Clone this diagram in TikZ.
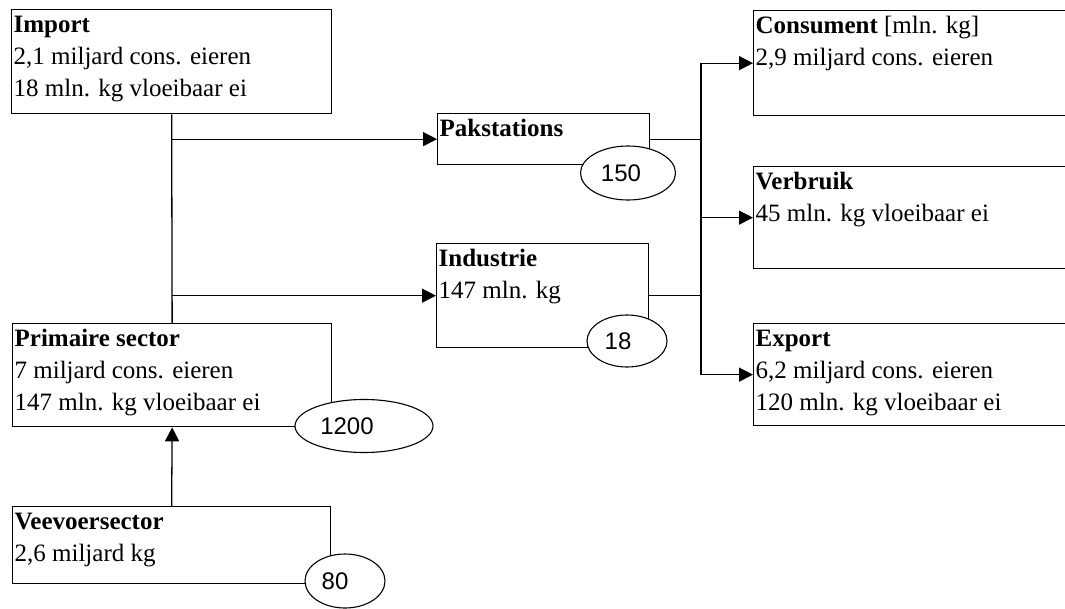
\documentclass[tikz,border=0pt]{standalone}
\usepackage{fontspec}
\setmainfont{Liberation Serif}
\newfontfamily\getalfont{Liberation Sans}
\usetikzlibrary{shapes.geometric,arrows.meta}

\newcommand{\inhoud}[3]{\parbox[c][#2][t]{#1}{\strut #3}}

\tikzset{
  blok/.style={draw, line width=1.3pt, anchor=north west, inner xsep=2pt, inner ysep=0pt,
    font=\fontsize{25}{32}\selectfont},
  getal/.style={draw, ellipse, fill=white, line width=1.1pt, inner sep=0pt,
    font=\getalfont\fontsize{24}{28}\selectfont},
  lijn/.style={line width=1.3pt},
  pijl/.style={lijn, -{Triangle[length=14pt,width=14pt]}}
}

\begin{document}
\begin{tikzpicture}[x=1pt,y=-1pt]
            \clip (0,0) rectangle (1065,608);

            % linker kolom
            \node[blok] (import) at (11,9) {\inhoud{316pt}{104pt}{\textbf{Import}\\2,1 miljard cons. eieren\\18 mln. kg vloeibaar ei}};
            \node[blok] (prim) at (12,323) {\inhoud{315pt}{103pt}{\textbf{Primaire sector}\\7 miljard cons. eieren\\147 mln. kg vloeibaar ei}};
            \node[blok] (veev) at (12,506) {\inhoud{314pt}{77pt}{\textbf{Veevoersector}\\2,6 miljard kg}};

            % midden
            \node[blok] (pak) at (437,113) {\inhoud{208pt}{51pt}{\textbf{Pakstations}}};
            \node[blok] (ind) at (436,243) {\inhoud{208pt}{104pt}{\textbf{Industrie}\\147 mln. kg}};

            % rechter kolom
            \node[blok] (cons) at (753,10) {\inhoud{326pt}{105pt}{\textbf{Consument} [mln. kg]\\2,9 miljard cons. eieren}};
            \node[blok] (verb) at (753,166) {\inhoud{326pt}{102pt}{\textbf{Verbruik}\\45 mln. kg vloeibaar ei}};
            \node[blok] (exp) at (753,323) {\inhoud{326pt}{102pt}{\textbf{Export}\\6,2 miljard cons. eieren\\120 mln. kg vloeibaar ei}};

            % verbindingen links
            \draw[lijn] (import.south) -- (prim.north);
            \draw[pijl] (import.south |- pak.west) -- (pak.west);
            \draw[pijl] (import.south |- ind.west) -- (ind.west);
            \draw[pijl] (veev.north) -- (prim.south);

            % verbindingen rechts
            \coordinate (splits) at (701,0);
            \draw[lijn] (pak.east) -- (splits |- pak.east);
            \draw[lijn] (ind.east) -- (splits |- ind.east);
            \draw[line width=2pt] (splits |- cons.west) -- (splits |- exp.west);
            \foreach \doel in {cons,verb,exp}{
                \draw[pijl] (splits |- \doel.west) -- (\doel.west);
            }

            % getallen (tekst iets naar links)
            \node[getal, minimum width=95, minimum height=54] (n150) at (628,173) {\kern-14pt 150};
            \node[getal, minimum width=80, minimum height=52] (n18) at (627,341) {\kern-18pt 18};
            \node[getal, minimum width=138, minimum height=53] (n1200) at (364,426) {\kern-34pt 1200};
            \node[getal, minimum width=80, minimum height=54] (n80) at (345,581) {\kern-20pt 80};
\end{tikzpicture}
\end{document}
